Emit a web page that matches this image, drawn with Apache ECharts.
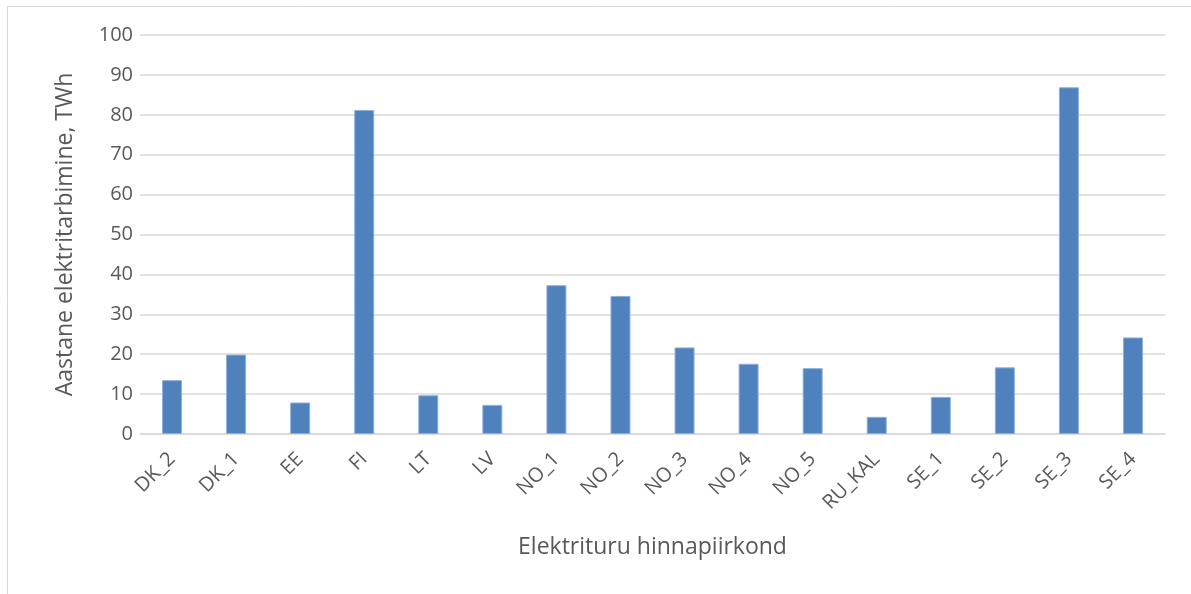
<!DOCTYPE html>
<html>
<head>
<meta charset="utf-8">
<script src="https://cdn.jsdelivr.net/npm/echarts@6/dist/echarts.min.js"></script>
<style>
  html, body { margin: 0; padding: 0; background: #fff; }
  #chart { width: 1191px; height: 594px; }
</style>
</head>
<body>
<div id="chart"></div>
<script>
// Price areas of the electricity market
const categories = ['DK_2', 'DK_1', 'EE', 'FI', 'LT', 'LV', 'NO_1', 'NO_2', 'NO_3', 'NO_4', 'NO_5', 'RU_KAL', 'SE_1', 'SE_2', 'SE_3', 'SE_4'];
// Annual electricity consumption per area, TWh
const consumption = [13.5, 19.9, 7.9, 81.2, 9.7, 7.3, 37.3, 34.6, 21.7, 17.6, 16.5, 4.3, 9.3, 16.7, 86.9, 24.2];
const yTicks = { min: 0, max: 100, interval: 10 };
const yTitle = 'Aastane elektritarbimine, TWh';
const xTitle = 'Elektrituru hinnapiirkond';

const font = '"Open Sans", "Liberation Sans", sans-serif';
const textColor = '#595959';

const chart = echarts.init(document.getElementById('chart'), null, { renderer: 'canvas' });
chart.setOption({
  animation: false,
  backgroundColor: '#ffffff',
  // frame around the chart area (open on the right and bottom edges of the page)
  graphic: [{
    type: 'rect',
    shape: { x: 7.5, y: 6.5, width: 1200, height: 600 },
    style: { fill: 'none', stroke: '#d9d9d9', lineWidth: 1 },
    silent: true
  }],
  grid: { left: 140, right: 26, top: 35, bottom: 160, containLabel: false },
  xAxis: {
    type: 'category',
    data: categories,
    name: xTitle,
    nameLocation: 'middle',
    nameGap: 102,
    nameTextStyle: { fontFamily: font, fontSize: 23, color: textColor },
    axisLine: { show: true, lineStyle: { color: '#d9d9d9', width: 1.5 } },
    axisTick: { show: false },
    axisLabel: {
      rotate: 45,
      margin: 22,
      interval: 0,
      fontFamily: font,
      fontSize: 20,
      color: textColor
    }
  },
  yAxis: {
    type: 'value',
    min: yTicks.min,
    max: yTicks.max,
    interval: yTicks.interval,
    name: yTitle,
    nameLocation: 'middle',
    nameGap: 63,
    nameTextStyle: { fontFamily: font, fontSize: 23, color: textColor },
    axisLine: { show: false },
    axisTick: { show: false },
    axisLabel: { margin: 7, fontFamily: font, fontSize: 20, color: textColor },
    splitLine: { lineStyle: { color: '#d9d9d9', width: 1.5 } }
  },
  series: [{
    type: 'bar',
    data: consumption,
    barWidth: 20,
    itemStyle: { color: '#4f81bd', borderColor: '#8eaedb', borderWidth: 1 }
  }]
});
</script>
</body>
</html>
